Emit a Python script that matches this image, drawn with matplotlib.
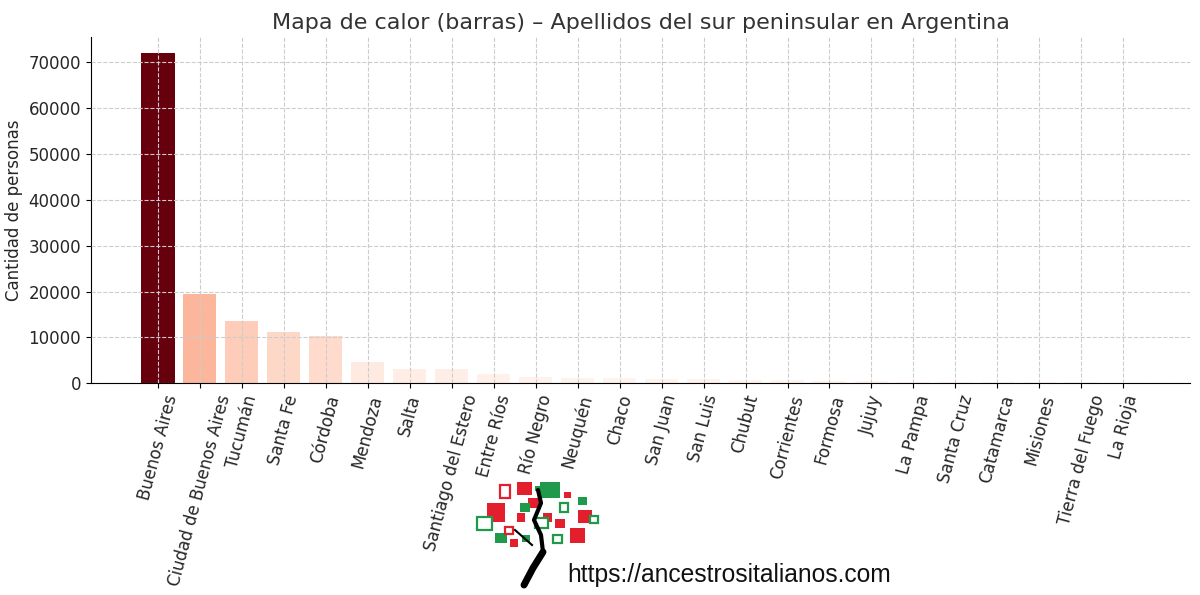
import matplotlib
matplotlib.use("Agg")
import matplotlib.pyplot as plt
from matplotlib.patches import Rectangle
import numpy as np

provincias = ["Buenos Aires", "Ciudad de Buenos Aires", "Tucumán", "Santa Fe", "Córdoba",
              "Mendoza", "Salta", "Santiago del Estero", "Entre Ríos", "Río Negro",
              "Neuquén", "Chaco", "San Juan", "San Luis", "Chubut", "Corrientes",
              "Formosa", "Jujuy", "La Pampa", "Santa Cruz", "Catamarca", "Misiones",
              "Tierra del Fuego", "La Rioja"]
personas = [71960, 19350, 13520, 11150, 10250, 4650, 3100, 3050, 2000, 1400,
            1150, 1050, 920, 860, 780, 600, 450, 400, 350, 300, 250, 200, 150, 100]

vals = np.array(personas, dtype=float)
colores = plt.cm.Reds(vals / vals.max())

fig = plt.figure(figsize=(12, 5.95), dpi=100)
ax = fig.add_axes([0.0758, 0.356, 0.916, 0.582])
x = np.arange(len(provincias))
ax.bar(x, vals, color=colores, width=0.8, zorder=1)
ax.grid(True, linestyle="--", color="#cccccc", linewidth=0.8, zorder=2)
ax.set_axisbelow(False)
ax.set_xticks(x)
ax.set_xticklabels(provincias, rotation=75, fontsize=12, color="#262626")
ax.tick_params(axis="y", labelsize=12, labelcolor="#262626")
ax.set_ylabel("Cantidad de personas", fontsize=12, color="#262626")
ax.set_title("Mapa de calor (barras) – Apellidos del sur peninsular en Argentina",
             fontsize=16, color="#333333", pad=6)
for s in ["top", "right"]:
    ax.spines[s].set_visible(False)

# logo / marca de agua
lg = fig.add_axes([0, 0, 1, 1], zorder=5)
lg.set_xlim(0, 1200)
lg.set_ylim(595, 0)
lg.axis("off")
rojo = "#e41f2d"
verde = "#1e9a4a"
llenos = [
    (517, 482, 15, 13, rojo), (487, 503, 18, 19, rojo), (528, 498, 12, 10, rojo),
    (517, 513, 8, 9, rojo), (543, 513, 9, 9, rojo), (555, 519, 10, 9, rojo),
    (578, 510, 14, 13, rojo), (570, 528, 15, 15, rojo), (510, 539, 8, 8, rojo),
    (564, 492, 7, 6, rojo),
    (540, 482, 20, 16, verde), (535, 486, 5, 5, verde), (520, 503, 10, 9, verde),
    (578, 497, 9, 8, verde), (495, 533, 12, 10, verde), (522, 535, 8, 7, verde),
]
for (px, py, w, h, c) in llenos:
    lg.add_patch(Rectangle((px, py), w, h, facecolor=c, edgecolor="none"))
huecos = [
    (500, 485, 10, 13, rojo), (505, 527, 8, 7, rojo),
    (477, 517, 15, 13, verde), (535, 518, 13, 10, verde), (560, 503, 8, 9, verde),
    (590, 516, 8, 7, verde), (553, 535, 9, 8, verde),
]
for (px, py, w, h, c) in huecos:
    lg.add_patch(Rectangle((px, py), w, h, facecolor="white", edgecolor=c, linewidth=1.6))
tx = [524, 533, 543, 541, 534, 541, 538]
ty = [585, 568, 552, 535, 520, 503, 490]
lg.plot(tx[:3], ty[:3], color="black", linewidth=5, solid_capstyle="round")
lg.plot(tx[2:], ty[2:], color="black", linewidth=3, solid_capstyle="round")
lg.plot([532, 515], [545, 530], color="black", linewidth=1.5)
lg.text(567, 582, "https://ancestrositalianos.com", fontsize=17.7,
        family="Liberation Sans", color="#111111", va="baseline")

fig.savefig("out.png", dpi=100)
